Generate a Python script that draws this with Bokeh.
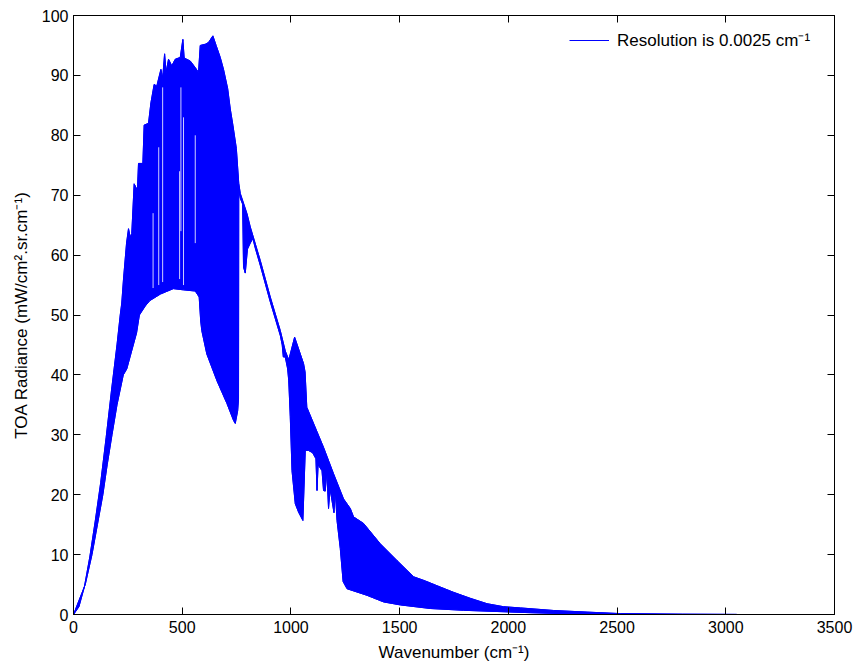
from bokeh.plotting import figure
from bokeh.models import FixedTicker, LinearAxis, Legend, LegendItem, Range1d
from bokeh.embed import file_html
from bokeh.resources import INLINE

# ---- data ----
# upper envelope of the dense spectrum
upper_wn = [0, 25, 50, 75, 100, 125, 150, 175, 200, 215, 222, 230, 244, 253, 261, 268,
            279, 294, 299, 319, 325, 345, 356, 371, 383, 402, 410, 419, 426, 437, 452,
            468, 491, 503, 509, 537, 560, 575, 583, 606, 621, 641, 656, 675, 690, 709,
            721, 733, 749, 760, 767, 798, 813, 859, 905, 951, 974, 990, 1017, 1058,
            1065, 1073, 1150, 1196, 1242, 1273, 1288, 1334, 1411, 1488, 1564, 1618,
            1672, 1748, 1825, 1902, 1978, 2055, 2208, 2362, 2515, 2800, 3050]
upper_rad = [0, 1.3, 4.6, 9.6, 15.6, 22, 29.5, 37.5, 45, 50, 52, 56, 62, 64.4, 63, 63.6,
             71.9, 70.8, 75.3, 75.3, 81.7, 82, 85.4, 88.5, 88.2, 91, 89.5, 93.6, 90.5,
             92.7, 91.6, 92.7, 93, 96, 92.9, 92.4, 91.3, 90.5, 95, 95.2, 95.5, 96.6, 95,
             93, 91, 87.8, 84.4, 81.7, 77.8, 72, 70.3, 66.9, 64.7, 59.1, 53, 47.4, 44,
             42.5, 46.3, 41.9, 40.5, 34.6, 27.9, 23.5, 19.3, 17.7, 16.3, 15.2, 11.8, 9,
             6.3, 5.6, 4.8, 3.7, 2.7, 1.8, 1.3, 1.1, 0.67, 0.4, 0.15, 0.05, 0.02]

# lower envelope of the dense spectrum
lower_wn = [0, 54, 85, 110, 135, 155, 177, 200, 229, 245, 260, 275, 290, 303, 330, 351,
            400, 459, 505, 560, 578, 585, 590, 613, 660, 706, 736, 744, 755, 759, 760,
            767, 778, 782, 790, 800, 813, 825, 835, 859, 905, 951, 960, 965, 974, 985,
            990, 997, 1005, 1020, 1035, 1055, 1066, 1080, 1100, 1115, 1120, 1125, 1143,
            1150, 1158, 1165, 1173, 1180, 1198, 1204, 1212, 1227, 1240, 1258, 1350,
            1426, 1503, 1641, 1794, 1948, 2100, 2300, 2500, 3050]
lower_rad = [0, 5, 10, 15, 20, 25, 30, 35, 40, 41, 43, 45, 47, 50, 51.5, 52.4, 53.5,
             54.4, 54.2, 54, 53, 49, 47.4, 43.5, 39, 35.2, 32.4, 31.9, 34, 36, 71, 69.5,
             68.5, 58, 57, 61, 62, 62.8, 61.3, 58.3, 52.2, 46.6, 45, 43, 43, 41, 39, 33,
             24, 18.5, 17.1, 15.7, 27.4, 27.4, 27, 26, 20.7, 25, 24, 20.7, 20.6, 24,
             17.7, 21, 17, 20.7, 15.7, 11, 5.5, 4.3, 3.2, 2.1, 1.6, 1.0, 0.7, 0.5, 0.3,
             0.1, 0.02, 0]

# thin white gaps visible inside the dense band
gap_wn = [366, 392, 410, 488, 494, 506, 560]
gap_top = [67, 78, 88, 74, 88, 83, 80]
gap_bot = [54.5, 55, 55.5, 56, 64, 55, 62]

x_ticks = [0, 500, 1000, 1500, 2000, 2500, 3000, 3500]
y_ticks = [0, 10, 20, 30, 40, 50, 60, 70, 80, 90, 100]

legend_label = "Resolution is 0.0025 cm\u207b\u00b9"
x_label = "Wavenumber (cm\u207b\u00b9)"
y_label = "TOA Radiance (mW/cm\u00b2.sr.cm\u207b\u00b9)"

BLUE = "#0000ff"
FONT = "Liberation Sans"

p = figure(width=854, height=665, x_range=Range1d(0, 3500), y_range=Range1d(0, 100),
           output_backend="svg", toolbar_location=None,
           min_border_left=73, min_border_right=20, min_border_top=15, min_border_bottom=51)
p.background_fill_color = "white"
p.border_fill_color = "white"
p.grid.visible = False
p.outline_line_color = "black"

# band between envelopes
poly_x = upper_wn + lower_wn[::-1]
poly_y = upper_rad + lower_rad[::-1]
p.patch(poly_x, poly_y, fill_color=BLUE, line_color=BLUE, line_width=1)
p.segment(x0=gap_wn, y0=gap_bot, x1=gap_wn, y1=gap_top, line_color="white",
          line_width=1, line_alpha=0.8)
r_up = p.line(upper_wn, upper_rad, line_color=BLUE, line_width=1)
p.line(lower_wn, lower_rad, line_color=BLUE, line_width=1)

def style_axis(ax, ticks, show_labels=True):
    ax.ticker = FixedTicker(ticks=ticks, minor_ticks=[])
    ax.major_tick_in = 7
    ax.major_tick_out = 0
    ax.minor_tick_line_color = None
    ax.major_tick_line_color = "black"
    ax.axis_line_color = "black"
    ax.major_label_text_font = FONT
    ax.axis_label_text_font = FONT
    ax.axis_label_text_font_style = "normal"
    ax.axis_label_text_color = "black"
    if show_labels:
        ax.major_label_text_color = "black"
        ax.major_label_text_font_size = "16px"
        ax.axis_label_text_font_size = "17px"
    else:
        ax.major_label_text_color = None
        ax.major_label_text_font_size = "1px"
        ax.major_label_standoff = 0

style_axis(p.xaxis[0], x_ticks)
style_axis(p.yaxis[0], y_ticks)
p.xaxis[0].axis_label = x_label
p.yaxis[0].axis_label = y_label
p.xaxis[0].major_label_standoff = 6
p.xaxis[0].axis_label_standoff = 7
p.yaxis[0].major_label_standoff = 5
p.yaxis[0].axis_label_standoff = 8

top_ax = LinearAxis()
style_axis(top_ax, x_ticks, show_labels=False)
p.add_layout(top_ax, "above")
right_ax = LinearAxis()
style_axis(right_ax, y_ticks, show_labels=False)
p.add_layout(right_ax, "right")

legend = Legend(items=[LegendItem(label=legend_label, renderers=[r_up])],
                location="top_right")
legend.margin = 13
legend.padding = 10
legend.glyph_width = 40
legend.label_standoff = 8
legend.label_width = 204
legend.label_text_font = FONT
legend.label_text_font_size = "17px"
legend.label_text_color = "black"
legend.border_line_color = None
legend.background_fill_alpha = 0
p.add_layout(legend, "center")

open("out.html", "w").write(file_html(p, INLINE))
